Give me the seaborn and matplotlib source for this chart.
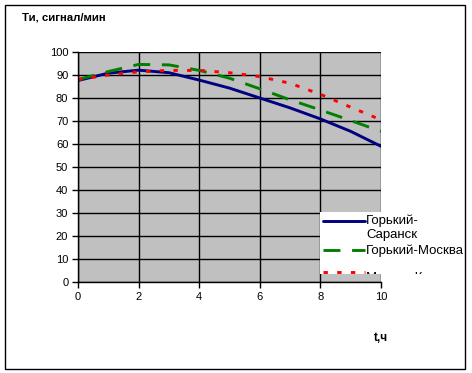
import numpy as np
import pandas as pd
import matplotlib
matplotlib.use("Agg")
import matplotlib.pyplot as plt
import seaborn as sns
from matplotlib.patches import Rectangle
from matplotlib.lines import Line2D

# ---- data ----
t = [0, 1, 2, 3, 4, 5, 6, 7, 8, 9, 10]
gorky_saransk = [87.6, 90.8, 92.1, 91.0, 87.8, 84.3, 80.0, 75.7, 70.9, 65.5, 59.0]
gorky_moscow = [88.0, 91.5, 94.6, 94.4, 92.0, 88.6, 84.0, 79.2, 74.8, 70.2, 65.5]
moscow_k = [88.0, 90.0, 91.4, 92.0, 92.0, 91.0, 89.3, 86.4, 81.6, 76.0, 70.5]
labels = ["Горький-\nСаранск", "Горький-Москва", "Москва-Казань"]
y_ticks = [0, 10, 20, 30, 40, 50, 60, 70, 80, 90, 100]
x_ticks = [0, 2, 4, 6, 8, 10]

sns.set_theme(style="white")
plt.rcParams['font.family'] = ['Liberation Sans', 'DejaVu Sans']

W, H = 472, 373
fig = plt.figure(figsize=(W / 100, H / 100), dpi=100)
fig.patch.set_facecolor("white")

def fx(px):
    return px / W

def fy(py):
    return 1 - py / H

x0, x1, y0, y1 = 78, 381, 52, 282
ax = fig.add_axes([fx(x0), fy(y1), fx(x1) - fx(x0), fy(y0) - fy(y1)])
ax.set_facecolor("#C0C0C0")

df = pd.DataFrame({"t": t, "a": gorky_saransk, "b": gorky_moscow, "c": moscow_k})
lw = 2.1
d_green = (5.8, 4.0)
d_red = (1.5, 3.2)
sns.lineplot(data=df, x="t", y="a", ax=ax, color="#000080", lw=lw)
sns.lineplot(data=df, x="t", y="b", ax=ax, color="#008000", lw=lw)
ax.lines[-1].set_dashes(d_green)
sns.lineplot(data=df, x="t", y="c", ax=ax, color="#FF0000", lw=lw)
ax.lines[-1].set_dashes(d_red)

ax.set_xlim(0, 10)
ax.set_ylim(0, 100)
ax.set_xticks(x_ticks)
ax.set_yticks(y_ticks)
ax.set_xlabel("")
ax.set_ylabel("")
ax.grid(True, color="black", lw=1.0)
ax.set_axisbelow(True)
for s in ax.spines.values():
    s.set_color("black")
    s.set_linewidth(1.0)
ax.spines["right"].set_visible(False)
ax.spines["top"].set_visible(False)
ax.tick_params(axis="both", direction="out", length=4, width=1, color="black",
               labelsize=8, labelcolor="black", pad=3, left=True, bottom=True)

# titles
fig.text(fx(22), fy(17), "Ти, сигнал/мин", fontsize=8.2, fontweight="bold",
         ha="left", va="center", color="black")
fig.text(fx(374), fy(338), "t,ч", fontsize=8.5, fontweight="bold",
         ha="left", va="center", color="black")

# legend (Excel-like, partly clipped)
lx0, ly0, lx1, ly1 = 320, 212, 464, 274
box = Rectangle((fx(lx0), fy(ly1)), fx(lx1) - fx(lx0), fy(ly0) - fy(ly1),
                transform=fig.transFigure, facecolor="white", edgecolor="none",
                zorder=5)
fig.add_artist(box)
clip = Rectangle((fx(lx0), fy(ly1)), fx(lx1) - fx(lx0), fy(ly0) - fy(ly1),
                 transform=fig.transFigure)
handles = [
    ([fx(323), fx(365)], fy(221), "#000080", None),
    ([fx(323), fx(365)], fy(250), "#008000", d_green),
    ([fx(323), fx(365)], fy(272), "#FF0000", d_red),
]
for xs, yv, col, dsh in handles:
    ln = Line2D(xs, [yv, yv], transform=fig.transFigure, color=col, lw=lw, zorder=6)
    if dsh:
        ln.set_dashes(dsh)
    ln.set_clip_path(clip)
    fig.add_artist(ln)
texts = [(fy(221), "Горький-"), (fy(235), "Саранск"), (fy(251), "Горький-Москва"),
         (fy(278), "Москва-Казань")]
for yv, s in texts:
    tx = fig.text(fx(366), yv, s, fontsize=9.5, ha="left", va="center",
                  color="black", zorder=7)
    tx.set_clip_on(True)
    tx.set_clip_path(clip)

# outer border
fig.add_artist(Rectangle((fx(5), fy(369)), fx(465) - fx(5), fy(5) - fy(369),
                         transform=fig.transFigure, fill=False,
                         edgecolor="black", lw=1.0, zorder=10))

fig.savefig("out.png", dpi=100)
